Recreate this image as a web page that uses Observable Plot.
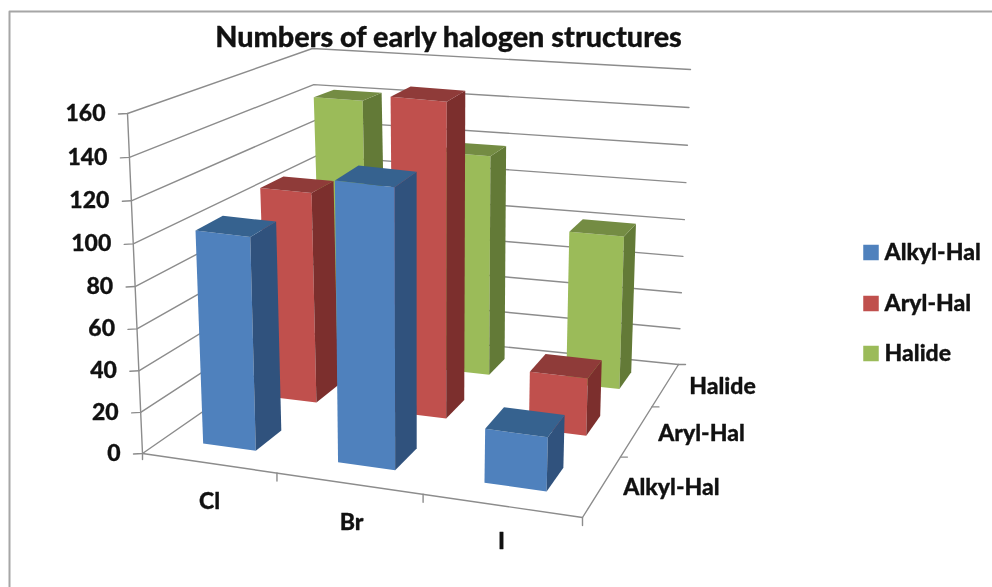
<!DOCTYPE html>
<html><head><meta charset="utf-8">
<script src="https://cdn.jsdelivr.net/npm/d3@7"></script>
<script src="https://cdn.jsdelivr.net/npm/@observablehq/plot@0.6"></script>
<style>html,body{margin:0;padding:0;background:#fff}svg{display:block;filter:blur(0.45px)}</style>
</head><body><div id="c"></div>
<script>
const categories = ["Cl","Br","I"];
const series = ["Alkyl-Hal","Aryl-Hal","Halide"];
const alkyl = [103,134,26];
const aryl = [107,158,29];
const halide = [141,117,81];
const valueTicks = [0,20,40,60,80,100,120,140,160];
const seriesValues = [alkyl,aryl,halide];
const frontColors = ["#4f81bd","#c0504d","#9bbb59"];
const topColors = ["#36628f","#8f3b39","#748c43"];
const sideColors = ["#30527d","#7c2f2d","#637a37"];
const title = "Numbers of early halogen structures";

// Floor corners on the page (front-left, front-right, back-right, back-left) and the rise of the 160 level above each
const floorQuad = [[142,453],[582,517],[678,364],[322,328]];
const rise = [[-15,-340],[10,-350],[12,-295],[-10,-280]];
function homography(q){
  const [[x0,y0],[x1,y1],[x2,y2],[x3,y3]] = q;
  const dx1=x1-x2,dx2=x3-x2,sx=x0-x1+x2-x3,dy1=y1-y2,dy2=y3-y2,sy=y0-y1+y2-y3;
  const den=dx1*dy2-dx2*dy1;
  const g=(sx*dy2-dx2*sy)/den,h=(dx1*sy-sx*dy1)/den;
  const a=x1-x0+g*x1,b=x3-x0+h*x3,d=y1-y0+g*y1,e=y3-y0+h*y3;
  return (u,w)=>{const k=g*u+h*w+1;return [(a*u+b*w+x0)/k,(d*u+e*w+y0)/k];};
}
const hFloor=homography(floorQuad);
function P(u,w,v){
  const a=hFloor(u,w),t0=v/160,t=t0-0.036*t0*(1-t0);
  const r=i=>(1-u)*(1-w)*rise[0][i]+u*(1-w)*rise[1][i]+u*w*rise[2][i]+(1-u)*w*rise[3][i];
  return [a[0]+r(0)*t,a[1]+r(1)*t];
}

const faces=[],rules=[],texts=[];
function face(id,color,pts){pts.forEach(p=>faces.push({id,color,x:p[0],y:p[1]}));}
function rule(id,pts){pts.forEach(p=>rules.push({id,x:p[0],y:p[1]}));}

const halfU=0.2/3,halfW=0.2/3;
for(let s=2;s>=0;s--){for(let c=0;c<3;c++){
  const v=seriesValues[s][c],u0=(c+.5)/3-halfU,u1=(c+.5)/3+halfU,w0=(s+.5)/3-halfW,w1=(s+.5)/3+halfW,id=s+"-"+c;
  face(id+"f",frontColors[s],[P(u0,w0,0),P(u1,w0,0),P(u1,w0,v),P(u0,w0,v)]);
  face(id+"s",sideColors[s],[P(u1,w0,0),P(u1,w1,0),P(u1,w1,v),P(u1,w0,v)]);
  face(id+"t",topColors[s],[P(u0,w0,v),P(u1,w0,v),P(u1,w1,v),P(u0,w1,v)]);
}}
valueTicks.forEach(t=>{
  const a=P(0,0,t);
  rule("g"+t,[[a[0]-9,a[1]+0.5],a,P(0,1,t),P(1,1,t)]);
  texts.push({x:a[0]-22,y:a[1],t:String(t)});
});
rule("axisV",[[142,459],P(0,0,0),P(0,0,160)]);
rule("front",[P(0,0,0),P(1,0,0),P(1,1,0)]);
[1,2,3].forEach(i=>{const a=P(i/3,0,0);rule("ct"+i,[a,[a[0],a[1]+8]]);});
[1,2,3].forEach(i=>{const a=P(1,i/3,0);rule("st"+i,[a,[a[0]+7,a[1]]]);});
const catLabels=[[209,501],[351,522],[501,541]];
const serLabels=[[671,487],[701,433],[722,386]];

const legendY=[252,303,353];
const legend=series.map((n,i)=>({n,y:legendY[i],color:frontColors[i]}));
const font="Lato, Carlito, sans-serif";
const heavy={fontWeight:900,fill:"#111",stroke:"#111",strokeWidth:0.3};

const plot=Plot.plot({
  width:992,height:587,margin:0,
  x:{domain:[0,992],range:[0,992],axis:null},
  y:{domain:[0,587],range:[0,587],axis:null},
  color:{type:"identity"},
  style:{background:"#fff",fontFamily:font},
  marks:[
    Plot.line([{x:9,y:587},{x:9,y:11},{x:992,y:11}],{x:"x",y:"y",stroke:"#a6a6a6",strokeWidth:2}),
    Plot.line(rules,{x:"x",y:"y",z:"id",stroke:"#8c8c8c",strokeWidth:1.4}),
    Plot.line(faces,{x:"x",y:"y",z:"id",fill:"color",stroke:"none"}),
    Plot.text(texts,{x:"x",y:"y",text:"t",textAnchor:"end",fontSize:23,...heavy}),
    Plot.text(categories,{x:(d,i)=>catLabels[i][0],y:(d,i)=>catLabels[i][1],text:d=>d,fontSize:23,...heavy}),
    Plot.text(series,{x:(d,i)=>serLabels[i][0],y:(d,i)=>serLabels[i][1],text:d=>d,fontSize:23,...heavy}),
    Plot.text([title],{x:448,y:37,text:d=>d,fontSize:28.8,...heavy}),
    Plot.dot(legend,{x:()=>870.5,y:"y",r:8.75,symbol:"square",fill:"color",stroke:"none"}),
    Plot.text(legend,{x:()=>884,y:"y",text:"n",textAnchor:"start",fontSize:23,...heavy})
  ]
});
document.getElementById("c").appendChild(plot);
</script></body></html>
